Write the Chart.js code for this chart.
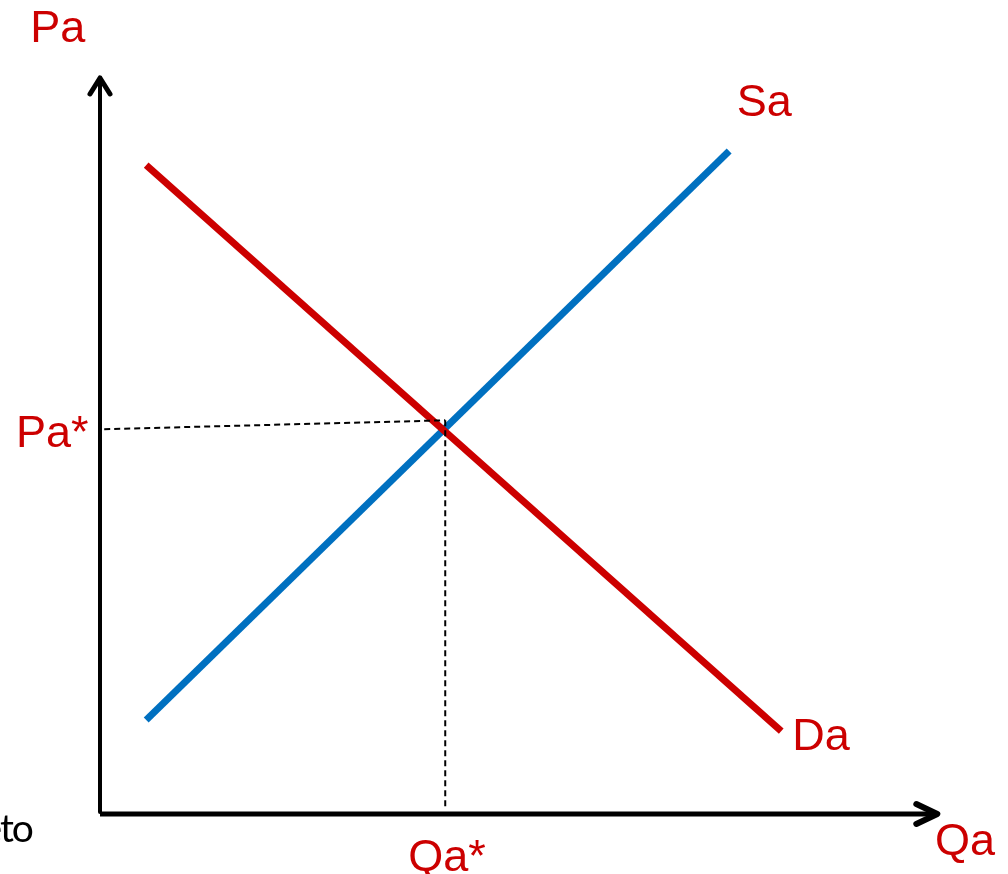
<!DOCTYPE html>
<html>
<head>
<meta charset="utf-8">
<script src="https://cdn.jsdelivr.net/npm/chart.js@4/dist/chart.umd.min.js"></script>
<style>
  html, body { margin: 0; padding: 0; background: #fff; }
  #wrap { width: 1008px; height: 874px; }
</style>
</head>
<body>
<div id="wrap"><canvas id="market" width="1008" height="874"></canvas></div>
<script>
// quantity (Qa) and price (Pa)
const demandQ = [0.55, 8.11];
const demandP = [8.77, 1.12];
const supplyQ = [0.55, 7.49];
const supplyP = [1.27, 8.96];

// dashed guides to the equilibrium
const priceGuideQ = [0.05, 4.11];
const priceGuideP = [5.20, 5.32];
const qtyGuideQ = [4.11, 4.11];
const qtyGuideP = [5.32, 0.05];

// axis ends
const axisQmax = 9.98;
const axisPmax = 9.96;

// text labels: text, Q, P
const labelText = ['Pa', 'Sa', 'Da', 'Qa', 'Pa*', 'Qa*'];
const labelQ = [-0.83, 7.58, 8.24, 9.94, -1.0, 3.67];
const labelP = [10.43, 9.43, 0.86, -0.55, 4.96, -0.77];

const RED = 'rgb(204,0,0)';
const BLUE = 'rgb(0,112,192)';

function pts(xs, ys) {
  return xs.map((x, i) => ({ x: x, y: ys[i] }));
}

// axes with arrow heads and the labels
const extras = {
  id: 'extras',
  afterDatasetsDraw(chart) {
    const ctx = chart.ctx;
    const sx = chart.scales.x, sy = chart.scales.y;
    const ox = sx.getPixelForValue(0), oy = sy.getPixelForValue(0);
    const tx = sx.getPixelForValue(axisQmax), ty = sy.getPixelForValue(axisPmax);
    ctx.save();
    ctx.strokeStyle = '#000';
    ctx.lineCap = 'round';
    ctx.lineJoin = 'round';
    // y axis
    ctx.lineWidth = 4;
    ctx.beginPath();
    ctx.moveTo(ox, oy - 2);
    ctx.lineTo(ox, ty + 2);
    ctx.stroke();
    ctx.lineWidth = 5;
    ctx.beginPath();
    ctx.moveTo(ox - 10, ty + 17);
    ctx.lineTo(ox, ty + 1);
    ctx.lineTo(ox + 10, ty + 17);
    ctx.stroke();
    // x axis
    ctx.lineWidth = 5;
    ctx.lineCap = 'butt';
    ctx.beginPath();
    ctx.moveTo(ox, oy);
    ctx.lineTo(tx - 2, oy);
    ctx.stroke();
    ctx.lineCap = 'round';
    ctx.lineWidth = 6;
    ctx.beginPath();
    ctx.moveTo(tx - 22, oy - 10);
    ctx.lineTo(tx - 1, oy);
    ctx.lineTo(tx - 22, oy + 10);
    ctx.stroke();

    // labels
    ctx.font = '45px "Liberation Sans", Arial, sans-serif';
    ctx.fillStyle = RED;
    ctx.textAlign = 'left';
    ctx.textBaseline = 'alphabetic';
    labelText.forEach((t, i) => {
      ctx.fillText(t, sx.getPixelForValue(labelQ[i]), sy.getPixelForValue(labelP[i]));
    });
    // cut-off word at the left edge
    ctx.font = '39px Lato, "Open Sans", sans-serif';
    ctx.letterSpacing = '-2px';
    ctx.fillStyle = '#000';
    ctx.textAlign = 'right';
    ctx.fillText('eto', sx.getPixelForValue(-0.81), sy.getPixelForValue(-0.38));
    ctx.restore();
  }
};

new Chart(document.getElementById('market'), {
  type: 'scatter',
  data: {
    datasets: [
      {
        label: 'Pa* guide',
        data: pts(priceGuideQ, priceGuideP),
        showLine: true,
        borderColor: '#000',
        borderWidth: 2,
        borderDash: [6, 4],
        pointRadius: 0
      },
      {
        label: 'Qa* guide',
        data: pts(qtyGuideQ, qtyGuideP),
        showLine: true,
        borderColor: '#000',
        borderWidth: 2,
        borderDash: [6, 4],
        pointRadius: 0
      },
      {
        label: 'Da',
        data: pts(demandQ, demandP),
        showLine: true,
        borderColor: RED,
        borderWidth: 7,
        pointRadius: 0
      },
      {
        label: 'Sa',
        data: pts(supplyQ, supplyP),
        showLine: true,
        borderColor: BLUE,
        borderWidth: 7,
        pointRadius: 0
      }
    ]
  },
  options: {
    responsive: false,
    animation: false,
    devicePixelRatio: 1,
    layout: { padding: 0 },
    plugins: {
      legend: { display: false },
      tooltip: { enabled: false }
    },
    scales: {
      x: { type: 'linear', display: false, min: -100 / 84, max: 908 / 84 },
      y: { type: 'linear', display: false, min: -60 / 74, max: 11 }
    }
  },
  plugins: [extras]
});
</script>
</body>
</html>
